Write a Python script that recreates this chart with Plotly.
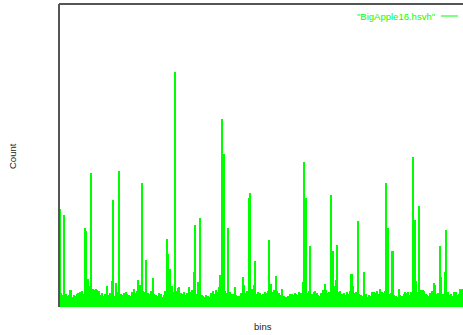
import plotly.graph_objects as go

# Histogram of the HSV bins of BigApple16
bins = list(range(256))
counts = [
    98, 14, 12, 92, 13, 11, 12, 17, 10, 12, 11, 13, 14, 15, 16, 13,
    79, 76, 28, 21, 134, 18, 17, 18, 17, 16, 12, 14, 11, 13, 21, 12,
    14, 26, 107, 11, 24, 15, 136, 13, 12, 14, 15, 13, 12, 11, 15, 18,
    14, 16, 27, 22, 124, 16, 15, 47, 14, 13, 16, 29, 13, 12, 11, 14,
    13, 10, 12, 16, 68, 53, 38, 21, 15, 235, 16, 19, 20, 14, 13, 15,
    12, 14, 20, 15, 17, 35, 82, 13, 25, 89, 12, 11, 10, 12, 11, 10,
    14, 16, 13, 17, 15, 20, 32, 188, 153, 16, 14, 79, 15, 13, 13, 20,
    12, 11, 11, 14, 30, 22, 14, 16, 109, 114, 18, 22, 46, 13, 15, 14,
    12, 13, 15, 14, 16, 67, 23, 15, 17, 31, 16, 14, 12, 18, 11, 10,
    10, 11, 13, 13, 12, 14, 13, 12, 15, 14, 25, 145, 109, 14, 16, 61,
    13, 15, 16, 14, 12, 11, 14, 17, 23, 17, 14, 15, 112, 56, 21, 27,
    62, 15, 16, 13, 14, 12, 15, 13, 16, 33, 21, 14, 15, 86, 13, 12,
    11, 35, 13, 10, 12, 11, 15, 15, 14, 16, 13, 18, 15, 14, 16, 124,
    79, 13, 14, 56, 12, 11, 10, 18, 12, 11, 13, 15, 14, 15, 12, 15,
    150, 87, 26, 15, 101, 17, 17, 16, 13, 12, 11, 14, 16, 24, 22, 13,
    14, 61, 30, 13, 35, 77, 15, 12, 13, 11, 15, 15, 12, 13, 18, 18,
]
series_name = '"BigApple16.hsvh"'
x_title = "bins"
y_title = "Count"

GREEN = "#00ff00"
FRAME = "#555555"
FONT = "Liberation Sans, Arial, sans-serif"

fig = go.Figure(
    go.Bar(
        x=bins,
        y=counts,
        marker=dict(color=GREEN, line=dict(width=0)),
        showlegend=False,
        name=series_name,
    )
)

fig.update_layout(
    width=463,
    height=335,
    margin=dict(l=59, r=0, t=4, b=28),
    paper_bgcolor="white",
    plot_bgcolor="white",
    bargap=0,
    xaxis=dict(range=[-0.45, 255.5], showticklabels=False, showgrid=False,
               zeroline=False, ticks="", showline=False),
    yaxis=dict(range=[0, 303], showticklabels=False, showgrid=False,
               zeroline=False, ticks="", showline=False),
    shapes=[
        # left and top frame lines
        dict(type="line", xref="paper", yref="paper", x0=0, x1=0, y0=0, y1=1,
             line=dict(color=FRAME, width=2), layer="above"),
        dict(type="line", xref="paper", yref="paper", x0=0, x1=1, y0=1, y1=1,
             line=dict(color=FRAME, width=2), layer="above"),
        # key line sample
        dict(type="line", xref="paper", yref="paper",
             x0=(441 - 59) / 404, x1=(458 - 59) / 404,
             y0=(307 - 16) / 303, y1=(307 - 16) / 303,
             line=dict(color=GREEN, width=1), layer="above"),
    ],
    annotations=[
        dict(text=series_name, xref="paper", yref="paper",
             x=(436 - 59) / 404, y=(307 - 17) / 303,
             xanchor="right", yanchor="middle", showarrow=False,
             borderpad=0, font=dict(family=FONT, size=9.5, color=GREEN)),
        dict(text=y_title, xref="paper", yref="paper",
             x=(12 - 59) / 404, y=(307 - 156) / 303, textangle=-90,
             xanchor="center", yanchor="middle", showarrow=False,
             borderpad=0, font=dict(family=FONT, size=9.5, color="#222222")),
        dict(text=x_title, xref="paper", yref="paper",
             x=(263 - 59) / 404, y=(307 - 326) / 303,
             xanchor="center", yanchor="middle", showarrow=False,
             borderpad=0, font=dict(family=FONT, size=9.5, color="#222222")),
    ],
)

fig.write_html("out.html")
